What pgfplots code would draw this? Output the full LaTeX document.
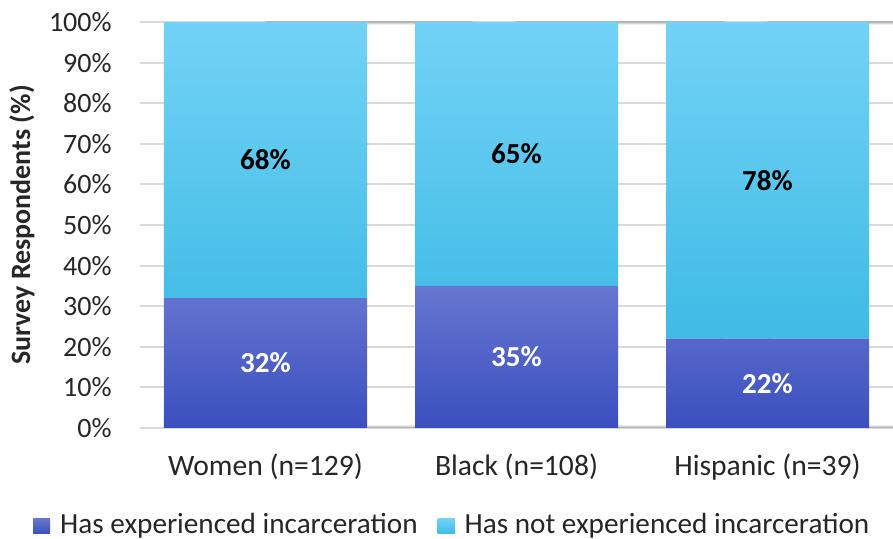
\documentclass[border=0pt]{standalone}
\usepackage{fontspec}
\setmainfont{Carlito}
\usepackage{pgfplots}
\pgfplotsset{compat=1.18}
\definecolor{darkTop}{HTML}{6776D0}
\definecolor{darkBot}{HTML}{3A4FBF}
\definecolor{lightTop}{HTML}{73D2F6}
\definecolor{lightBot}{HTML}{3EBBE5}
\definecolor{darkLeg}{HTML}{4459C6}
\definecolor{lightLeg}{HTML}{5BCDF4}
\definecolor{gridgray}{HTML}{D9D9D9}
\definecolor{txt}{HTML}{262626}
\pgfplotsset{
  base/.style={
    at={(0pt,0pt)}, anchor=south west,
    scale only axis, width=376.5pt, height=203pt,
    xmin=-0.5, xmax=2.5, ymin=0, ymax=100,
  }
}
\begin{document}
\fontsize{14}{17}\selectfont
\begin{tikzpicture}
\useasboundingbox (-70pt,-55.5pt) rectangle (376.5pt,214pt);
% grid, axis, labels and soft bar shadows
\begin{axis}[base,
  ybar, bar width=101.5pt,
  xtick={0,1,2},
  xticklabels={Women (n=129), Black (n=108), Hispanic (n=39)},
  ytick={0,10,...,100},
  yticklabel={\pgfmathprintnumber{\tick}\%},
  /pgf/number format/assume math mode=true,
  ymajorgrids, grid style={draw=gridgray, line width=1pt},
  separate axis lines,
  axis x line*=bottom, axis y line*=left,
  x axis line style={draw=gridgray, line width=1pt, -},
  y axis line style={draw=none},
  major tick length=0pt, tick style={draw=none},
  yticklabel style={inner sep=0pt, xshift=-14pt, font=\fontsize{14}{17}\selectfont, text=txt},
  xticklabel style={inner sep=0pt, yshift=-12.5pt, font=\fontsize{14.8}{17}\selectfont, text=txt},
  ylabel={\bfseries Survey Respondents (\%)},
  every axis y label/.style={at={(axis description cs:0,0.5)}, xshift=-59pt, rotate=90, anchor=center, font=\fontsize{14}{17}\selectfont, text=txt},
]
\addplot[draw=black, draw opacity=0.07, line width=3.4pt, fill=none, forget plot] coordinates {(0,100) (1,100) (2,100)};
\addplot[draw=black, draw opacity=0.10, line width=1.8pt, fill=none, forget plot] coordinates {(0,100) (1,100) (2,100)};
\end{axis}
% stacked bars
\begin{axis}[base,
  ybar stacked, bar width=101.5pt,
  axis lines=none, xtick=\empty, ytick=\empty,
  legend style={at={(rel axis cs:0.416,-0.239)}, anchor=center, draw=none, fill=none,
    legend columns=-1, inner sep=0pt, font=\fontsize{14.6}{17}\selectfont, text=txt,
    /tikz/every even column/.append style={column sep=8pt},
    /tikz/every odd column/.append style={column sep=3pt}},
  legend cell align=left,
]
\addplot[draw=none, top color=darkTop, bottom color=darkBot,
  legend image code/.code={\fill[darkLeg] (0pt,-4.4pt) rectangle (8.5pt,3.2pt);}]
  coordinates {(0,32) (1,35) (2,22)};
\addlegendentry{Has experienced incarceration}
\addplot[draw=none, top color=lightTop, bottom color=lightBot,
  legend image code/.code={\fill[lightLeg] (0pt,-4.4pt) rectangle (8.5pt,3.2pt);}]
  coordinates {(0,68) (1,65) (2,78)};
\addlegendentry{Has not experienced incarceration}
\end{axis}
% data labels at segment centres
\begin{axis}[base, axis lines=none, xtick=\empty, ytick=\empty,
  nodes near coords, point meta=explicit symbolic,
  every node near coord/.append style={anchor=center, font=\bfseries\fontsize{14.5}{17}\selectfont},
]
\addplot[only marks, mark=none, every node near coord/.append style={text=white}]
  table[meta=lab] {
x y lab
0 16 32\%
1 17.5 35\%
2 11 22\%
};
\addplot[only marks, mark=none, every node near coord/.append style={text=black}]
  table[meta=lab] {
x y lab
0 66 68\%
1 67.5 65\%
2 61 78\%
};
\end{axis}
\end{tikzpicture}
\end{document}
